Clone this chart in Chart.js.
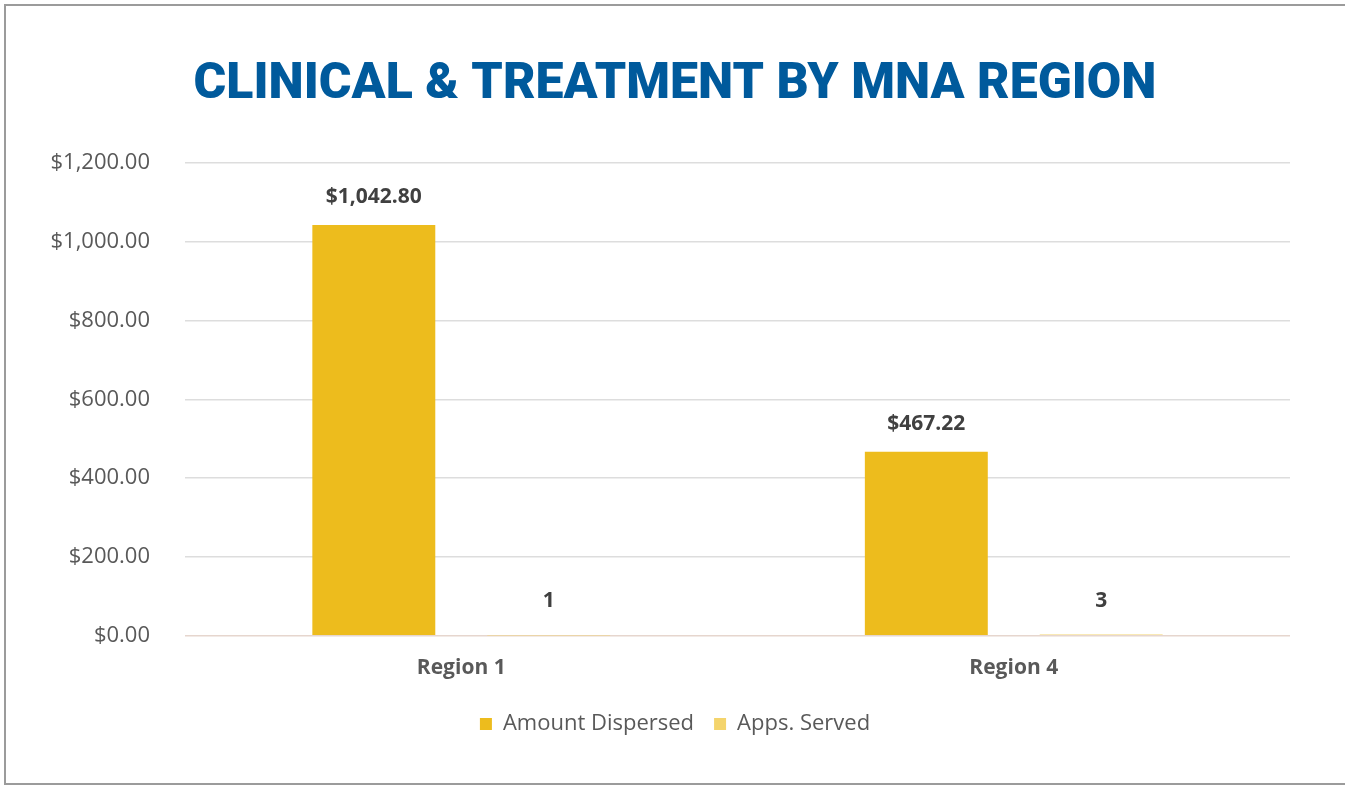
<!DOCTYPE html>
<html>
<head>
<meta charset="utf-8">
<script src="https://cdn.jsdelivr.net/npm/chart.js@4.4.1/dist/chart.umd.min.js"></script>
<style>
  html, body { margin: 0; padding: 0; background: #fff; }
  #wrap { position: relative; width: 1345px; height: 788px; }
  #frame { position: absolute; left: 4px; top: 4px; width: 1345px; height: 781px;
           border: 2px solid #9b9b9b; border-right: none; box-sizing: border-box; pointer-events: none; }
</style>
</head>
<body>
<div id="wrap">
  <canvas id="myChart" width="1345" height="788"></canvas>
  <div id="frame"></div>
</div>
<script>
// Datos del gráfico
const categories = ['Region 1', 'Region 4'];
const amountDispersed = [1042.80, 467.22];
const appsServed = [1, 3];
const yTicks = [0, 200, 400, 600, 800, 1000, 1200];

const money = v => '$' + v.toLocaleString('en-US', { minimumFractionDigits: 2, maximumFractionDigits: 2 });

// Plugin sencillo para las etiquetas encima de las barras
const barLabels = {
  id: 'barLabels',
  afterDatasetsDraw(chart) {
    const ctx = chart.ctx;
    ctx.save();
    ctx.font = 'bold 21px "Open Sans"';
    ctx.fillStyle = '#404040';
    ctx.textAlign = 'center';
    ctx.textBaseline = 'middle';
    chart.data.datasets.forEach((ds, i) => {
      const meta = chart.getDatasetMeta(i);
      meta.data.forEach((bar, j) => {
        const v = ds.data[j];
        const txt = i === 0 ? money(v) : String(v);
        const off = i === 0 ? 28 : 34;
        ctx.fillText(txt, bar.x, bar.y - off);
      });
    });
    ctx.restore();
  }
};

const ctx = document.getElementById('myChart').getContext('2d');
const chart = new Chart(ctx, {
  type: 'bar',
  data: {
    labels: categories,
    datasets: [
      { label: 'Amount Dispersed', data: amountDispersed, backgroundColor: '#EDBC1D',
        categoryPercentage: 0.633, barPercentage: 0.703 },
      { label: 'Apps. Served', data: appsServed, backgroundColor: '#F4D46C',
        categoryPercentage: 0.633, barPercentage: 0.703 }
    ]
  },
  options: {
    responsive: false,
    animation: false,
    layout: { padding: { left: 45, right: 40, top: 0, bottom: 43 } },
    plugins: {
      title: {
        display: true,
        text: 'CLINICAL & TREATMENT BY MNA REGION',
        color: '#005A9C',
        font: { family: 'Roboto', size: 50, weight: '900' },
        padding: { top: 55, bottom: 48 }
      },
      legend: {
        position: 'bottom',
        labels: {
          boxWidth: 12, boxHeight: 12, padding: 20,
          color: '#595959',
          font: { family: 'Open Sans', size: 22 }
        }
      },
      tooltip: { enabled: false }
    },
    scales: {
      x: {
        grid: { display: false },
        border: { display: false },
        ticks: { color: '#595959', padding: 12, font: { family: 'Open Sans', size: 21, weight: 'bold' } }
      },
      y: {
        min: 0, max: 1200,
        afterBuildTicks: axis => { axis.ticks = yTicks.map(v => ({ value: v })); },
        afterFit: axis => { axis.width = 140; },
        border: { display: false },
        grid: {
          drawTicks: false, lineWidth: 1.5,
          color: c => c.tick && c.tick.value === 0 ? '#E6D6CE' : '#DDDDDD'
        },
        ticks: { color: '#595959', padding: 35, callback: v => money(v),
                 font: { family: 'Open Sans', size: 22 } }
      },
      // eje vacío a la derecha, solo para reservar margen
      yRight: {
        position: 'right',
        min: 0, max: 1200,
        afterFit: axis => { axis.width = 15; },
        grid: { display: false },
        border: { display: false },
        ticks: { display: false }
      }
    }
  },
  plugins: [barLabels]
});
</script>
</body>
</html>
